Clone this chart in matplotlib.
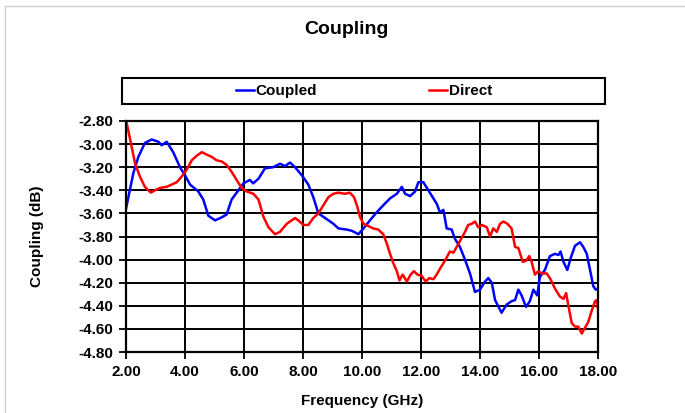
import numpy as np
import matplotlib
matplotlib.use("Agg")
import matplotlib.pyplot as plt
from matplotlib.patches import Rectangle

plt.rcParams['font.family'] = ['Liberation Sans', 'DejaVu Sans']
plt.rcParams['font.weight'] = 'bold'

# data
coupled_f = [2.00, 2.25, 2.42, 2.64, 2.87, 3.10, 3.21, 3.38, 3.60, 3.83, 4.00, 4.17, 4.45, 4.62,
             4.79, 5.02, 5.20, 5.41, 5.58, 5.81, 5.98, 6.20, 6.31, 6.49, 6.71, 6.99, 7.22, 7.39,
             7.56, 7.73, 7.96, 8.18, 8.35, 8.52, 8.75, 9.03, 9.20, 9.48, 9.65, 9.88, 10.05, 10.27,
             10.50, 10.72, 10.95, 11.18, 11.35, 11.46, 11.63, 11.80, 11.91, 12.08, 12.25, 12.42,
             12.54, 12.64, 12.76, 12.87, 13.04, 13.15, 13.32, 13.49, 13.66, 13.83, 14.00, 14.17,
             14.28, 14.40, 14.51, 14.73, 14.90, 15.07, 15.19, 15.30, 15.41, 15.56, 15.69, 15.81,
             15.94, 16.03, 16.20, 16.37, 16.54, 16.66, 16.73, 16.83, 16.96, 17.07, 17.22, 17.39,
             17.50, 17.62, 17.73, 17.84, 17.92, 18.00]
coupled_db = [-3.56, -3.25, -3.11, -2.99, -2.96, -2.98, -3.01, -2.98, -3.07, -3.20, -3.27, -3.35,
              -3.41, -3.48, -3.62, -3.66, -3.64, -3.61, -3.48, -3.40, -3.34, -3.31, -3.34, -3.30,
              -3.21, -3.20, -3.17, -3.19, -3.16, -3.20, -3.27, -3.35, -3.46, -3.60, -3.64, -3.69,
              -3.73, -3.74, -3.75, -3.78, -3.73, -3.66, -3.59, -3.53, -3.47, -3.43, -3.37, -3.43,
              -3.45, -3.41, -3.33, -3.33, -3.40, -3.47, -3.52, -3.59, -3.57, -3.73, -3.74, -3.82,
              -3.89, -4.00, -4.12, -4.28, -4.26, -4.19, -4.16, -4.20, -4.35, -4.46, -4.39, -4.36,
              -4.35, -4.26, -4.31, -4.41, -4.36, -4.26, -4.31, -4.15, -4.09, -3.97, -3.95, -3.96,
              -3.93, -4.02, -4.09, -3.99, -3.88, -3.85, -3.89, -3.95, -4.09, -4.23, -4.26, -4.25]

direct_f = [2.00, 2.14, 2.31, 2.47, 2.64, 2.84, 2.98, 3.15, 3.38, 3.55, 3.72, 3.89, 4.06, 4.23,
            4.40, 4.57, 4.73, 4.90, 5.07, 5.24, 5.41, 5.58, 5.75, 5.92, 6.09, 6.32, 6.49, 6.66,
            6.83, 7.05, 7.22, 7.45, 7.73, 7.84, 8.01, 8.18, 8.35, 8.52, 8.69, 8.86, 9.03, 9.20,
            9.42, 9.59, 9.73, 9.84, 9.93, 10.05, 10.22, 10.38, 10.55, 10.72, 10.84, 10.95, 11.06,
            11.18, 11.27, 11.38, 11.52, 11.65, 11.76, 11.88, 12.02, 12.16, 12.28, 12.42, 12.53,
            12.64, 12.81, 12.98, 13.10, 13.21, 13.32, 13.49, 13.60, 13.72, 13.83, 13.94, 14.06,
            14.23, 14.34, 14.45, 14.57, 14.68, 14.79, 14.93, 15.07, 15.19, 15.30, 15.45, 15.56,
            15.67, 15.75, 15.86, 15.98, 16.09, 16.26, 16.37, 16.54, 16.71, 16.83, 16.92, 16.99,
            17.11, 17.22, 17.33, 17.45, 17.56, 17.67, 17.79, 17.90, 17.96, 18.00]
direct_db = [-2.79, -2.96, -3.17, -3.28, -3.37, -3.42, -3.40, -3.38, -3.37, -3.35, -3.33, -3.28,
             -3.22, -3.14, -3.10, -3.07, -3.09, -3.11, -3.14, -3.15, -3.18, -3.24, -3.31, -3.38,
             -3.41, -3.43, -3.48, -3.63, -3.72, -3.78, -3.76, -3.69, -3.64, -3.66, -3.70, -3.70,
             -3.64, -3.60, -3.53, -3.46, -3.43, -3.42, -3.43, -3.42, -3.46, -3.54, -3.63, -3.69,
             -3.71, -3.73, -3.74, -3.78, -3.86, -3.95, -4.03, -4.10, -4.18, -4.13, -4.19, -4.13,
             -4.10, -4.13, -4.14, -4.19, -4.16, -4.17, -4.13, -4.08, -4.01, -3.93, -3.94, -3.89,
             -3.84, -3.76, -3.70, -3.69, -3.67, -3.72, -3.70, -3.72, -3.80, -3.73, -3.76, -3.69,
             -3.67, -3.69, -3.73, -3.89, -3.90, -4.02, -4.01, -3.97, -4.02, -4.13, -4.10, -4.12,
             -4.12, -4.16, -4.25, -4.32, -4.34, -4.29, -4.39, -4.55, -4.58, -4.58, -4.64, -4.59,
             -4.54, -4.44, -4.36, -4.35, -4.43]

x_ticks = np.arange(2, 18.01, 2)
y_ticks = np.arange(-4.8, -2.79, 0.2)

W, H = 685, 413
fig = plt.figure(figsize=(W / 100, H / 100), dpi=100)

# light outer border of the chart area
fig.patches.append(Rectangle((5 / W, -0.05), 1.1, 1.05 - 6 / H, transform=fig.transFigure,
                             fill=False, edgecolor='#d0d0d0', lw=1))

ax = fig.add_axes([126 / W, 1 - 352 / H, (598 - 126) / W, (352 - 121) / H])
ax.plot(coupled_f, coupled_db, color='#0000ff', lw=1.8, label='Coupled')
ax.plot(direct_f, direct_db, color='#ff0000', lw=1.8, label='Direct')

ax.set_xlim(2, 18)
ax.set_ylim(-4.8, -2.8)
ax.set_xticks(x_ticks)
ax.set_yticks(y_ticks)
ax.set_xticklabels(['%.2f' % v for v in x_ticks], fontsize=11, fontweight='bold')
ax.set_yticklabels(['%.2f' % v for v in y_ticks], fontsize=11, fontweight='bold')
ax.grid(True, color='black', lw=1.4)
ax.set_axisbelow(True)
ax.tick_params(direction='out', length=5, width=1.3, pad=4)
for s in ax.spines.values():
    s.set_linewidth(1.6)
    s.set_color('black')

ax.set_xlabel('Frequency (GHz)', fontsize=11, fontweight='bold', labelpad=11)
ax.set_ylabel('Coupling (dB)', fontsize=11, fontweight='bold', labelpad=25)

fig.text(346 / W, 1 - 30 / H, 'Coupling', ha='center', va='center', fontsize=14, fontweight='bold')

# legend box
fig.patches.append(Rectangle((122 / W, 1 - 104 / H), (605 - 122) / W, 26 / H,
                             transform=fig.transFigure, fill=False, edgecolor='black', lw=1.5))
fig.legend(loc='center', bbox_to_anchor=(364 / W, 1 - 91 / H), ncol=2, frameon=False,
           handlelength=1.2, handletextpad=0.12, columnspacing=7.3,
           prop={'weight': 'bold', 'size': 11})

fig.savefig('out.png', dpi=100)
